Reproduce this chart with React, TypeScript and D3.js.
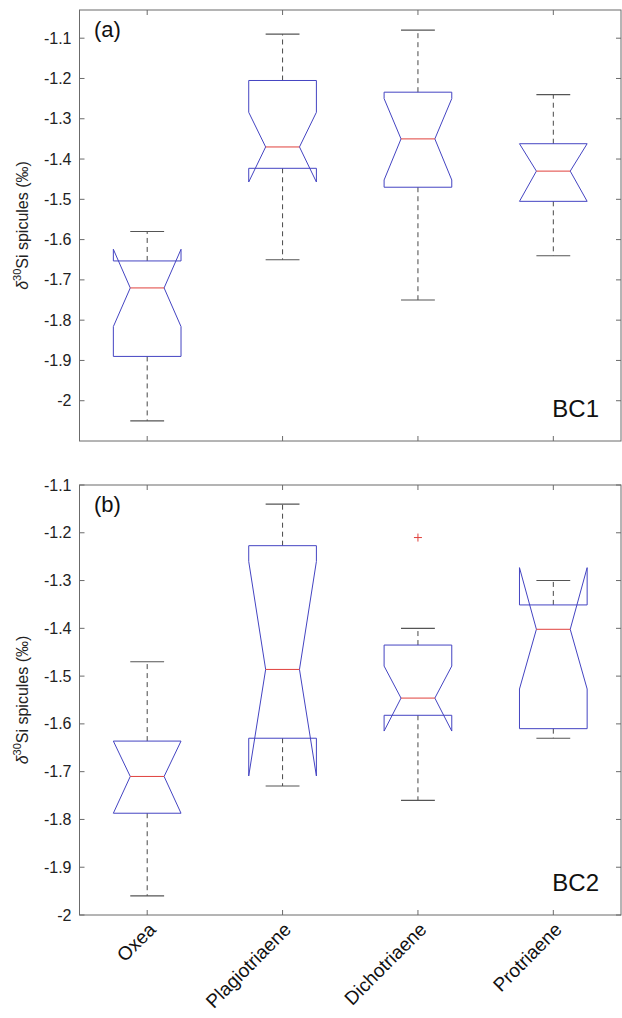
import * as d3 from "d3";

// categories & tick labels
const categories = ["Oxea", "Plagiotriaene", "Dichotriaene", "Protriaene"];
const yTicks = [-2, -1.9, -1.8, -1.7, -1.6, -1.5, -1.4, -1.3, -1.2, -1.1];

// BC1 (panel a)
const bc1WhiskerHi = [-1.58, -1.09, -1.08, -1.24];
const bc1Q3 = [-1.653, -1.205, -1.234, -1.362];
const bc1NotchHi = [-1.624, -1.284, -1.25, -1.362];
const bc1Median = [-1.72, -1.37, -1.35, -1.43];
const bc1NotchLo = [-1.816, -1.457, -1.452, -1.505];
const bc1Q1 = [-1.89, -1.423, -1.47, -1.505];
const bc1WhiskerLo = [-2.05, -1.65, -1.75, -1.64];
const bc1Outliers: [number, number][] = [];

// BC2 (panel b)
const bc2WhiskerHi = [-1.47, -1.14, -1.4, -1.3];
const bc2Q3 = [-1.636, -1.227, -1.435, -1.351];
const bc2NotchHi = [-1.636, -1.26, -1.479, -1.273];
const bc2Median = [-1.71, -1.486, -1.546, -1.402];
const bc2NotchLo = [-1.787, -1.709, -1.615, -1.527];
const bc2Q1 = [-1.787, -1.63, -1.582, -1.61];
const bc2WhiskerLo = [-1.96, -1.73, -1.76, -1.63];
// [category index, value]
const bc2Outliers: [number, number][] = [[2, -1.21]];

const FONT = "'Liberation Sans', Arial, Helvetica, sans-serif";
const AXIS = "#6b6b6b";
const BOX = "#4444c2";
const MED = "#e0403c";

type PanelProps = {
  top: number;
  bottom: number;
  domain: [number, number];
  whiskerHi: number[];
  q3: number[];
  notchHi: number[];
  median: number[];
  notchLo: number[];
  q1: number[];
  whiskerLo: number[];
  outliers: [number, number][];
  tag: string;
  site: string;
  showX: boolean;
};

const x = d3.scaleLinear().domain([0.5, 4.5]).range([79.5, 621]);
const BW = 0.25; // half box width in category units
const CAP = 0.125;

function Panel(p: PanelProps) {
  const y = d3.scaleLinear().domain(p.domain).range([p.bottom, p.top]);
  const line = d3.line<[number, number]>().x((d) => x(d[0])).y((d) => y(d[1]));
  const tk = 5;
  const left = x(0.5);
  const right = x(4.5);
  const midY = (p.top + p.bottom) / 2;

  return (
    <g>
      {/* axes box */}
      <rect x={left} y={p.top} width={right - left} height={p.bottom - p.top} fill="none" stroke={AXIS} strokeWidth={1} />
      {yTicks.map((t) => (
        <g key={t}>
          <line x1={left} x2={left + tk} y1={y(t)} y2={y(t)} stroke={AXIS} />
          <line x1={right} x2={right - tk} y1={y(t)} y2={y(t)} stroke={AXIS} />
          <text x={left - 8} y={y(t)} dy="0.35em" textAnchor="end" fontSize={16} fill="#222">
            {String(Math.round(t * 10) / 10)}
          </text>
        </g>
      ))}
      {categories.map((c, i) => (
        <g key={c}>
          <line x1={x(i + 1)} x2={x(i + 1)} y1={p.top} y2={p.top + tk} stroke={AXIS} />
          <line x1={x(i + 1)} x2={x(i + 1)} y1={p.bottom} y2={p.bottom - tk} stroke={AXIS} />
          {p.showX && (
            <text
              transform={`translate(${x(i + 1) + 5},${p.bottom + 11}) rotate(-45)`}
              textAnchor="end"
              dy="0.35em"
              fontSize={19}
              fill="#111"
            >
              {c}
            </text>
          )}
        </g>
      ))}

      {/* boxes */}
      {categories.map((c, i) => {
        const cx = i + 1;
        const poly: [number, number][] = [
          [cx - BW, p.q3[i]],
          [cx + BW, p.q3[i]],
          [cx + BW, p.notchHi[i]],
          [cx + BW / 2, p.median[i]],
          [cx + BW, p.notchLo[i]],
          [cx + BW, p.q1[i]],
          [cx - BW, p.q1[i]],
          [cx - BW, p.notchLo[i]],
          [cx - BW / 2, p.median[i]],
          [cx - BW, p.notchHi[i]],
        ];
        return (
          <g key={c}>
            <line x1={x(cx)} x2={x(cx)} y1={y(p.q3[i])} y2={y(p.whiskerHi[i])} stroke="#333" strokeDasharray="5,4" strokeWidth={0.9} />
            <line x1={x(cx)} x2={x(cx)} y1={y(p.q1[i])} y2={y(p.whiskerLo[i])} stroke="#333" strokeDasharray="5,4" strokeWidth={0.9} />
            <line x1={x(cx - CAP)} x2={x(cx + CAP)} y1={y(p.whiskerHi[i])} y2={y(p.whiskerHi[i])} stroke="#555" strokeWidth={1.1} />
            <line x1={x(cx - CAP)} x2={x(cx + CAP)} y1={y(p.whiskerLo[i])} y2={y(p.whiskerLo[i])} stroke="#555" strokeWidth={1.1} />
            <path d={line(poly) + "Z"} fill="none" stroke={BOX} strokeWidth={1} />
            <line x1={x(cx - BW / 2)} x2={x(cx + BW / 2)} y1={y(p.median[i])} y2={y(p.median[i])} stroke={MED} strokeWidth={1} />
          </g>
        );
      })}
      {p.outliers.map(([ci, v], k) => (
        <g key={k} stroke={MED} strokeWidth={1}>
          <line x1={x(ci + 1) - 4} x2={x(ci + 1) + 4} y1={y(v)} y2={y(v)} />
          <line x1={x(ci + 1)} x2={x(ci + 1)} y1={y(v) - 4} y2={y(v) + 4} />
        </g>
      ))}

      {/* labels */}
      <text x={94} y={p.top + 27} fontSize={22} fill="#111">{p.tag}</text>
      <text x={599} y={p.bottom - 24} textAnchor="end" fontSize={24} fill="#111">{p.site}</text>
      <text transform={`translate(28,${midY}) rotate(-90)`} textAnchor="middle" fontSize={16} fill="#222">
        <tspan fontStyle="italic">δ</tspan>
        <tspan dy={-7} fontSize={11}>30</tspan>
        <tspan dy={7}>Si spicules (‰)</tspan>
      </text>
    </g>
  );
}

export default function App() {
  return (
    <div style={{ position: "absolute", left: 0, top: 0 }}>
      <svg width={622} height={1018} style={{ display: "block", background: "#fff", fontFamily: FONT }}>
        <Panel
          top={10}
          bottom={441}
          domain={[-2.1, -1.03]}
          whiskerHi={bc1WhiskerHi}
          q3={bc1Q3}
          notchHi={bc1NotchHi}
          median={bc1Median}
          notchLo={bc1NotchLo}
          q1={bc1Q1}
          whiskerLo={bc1WhiskerLo}
          outliers={bc1Outliers}
          tag="(a)"
          site="BC1"
          showX={false}
        />
        <Panel
          top={485}
          bottom={915}
          domain={[-2, -1.1]}
          whiskerHi={bc2WhiskerHi}
          q3={bc2Q3}
          notchHi={bc2NotchHi}
          median={bc2Median}
          notchLo={bc2NotchLo}
          q1={bc2Q1}
          whiskerLo={bc2WhiskerLo}
          outliers={bc2Outliers}
          tag="(b)"
          site="BC2"
          showX={true}
        />
      </svg>
    </div>
  );
}
